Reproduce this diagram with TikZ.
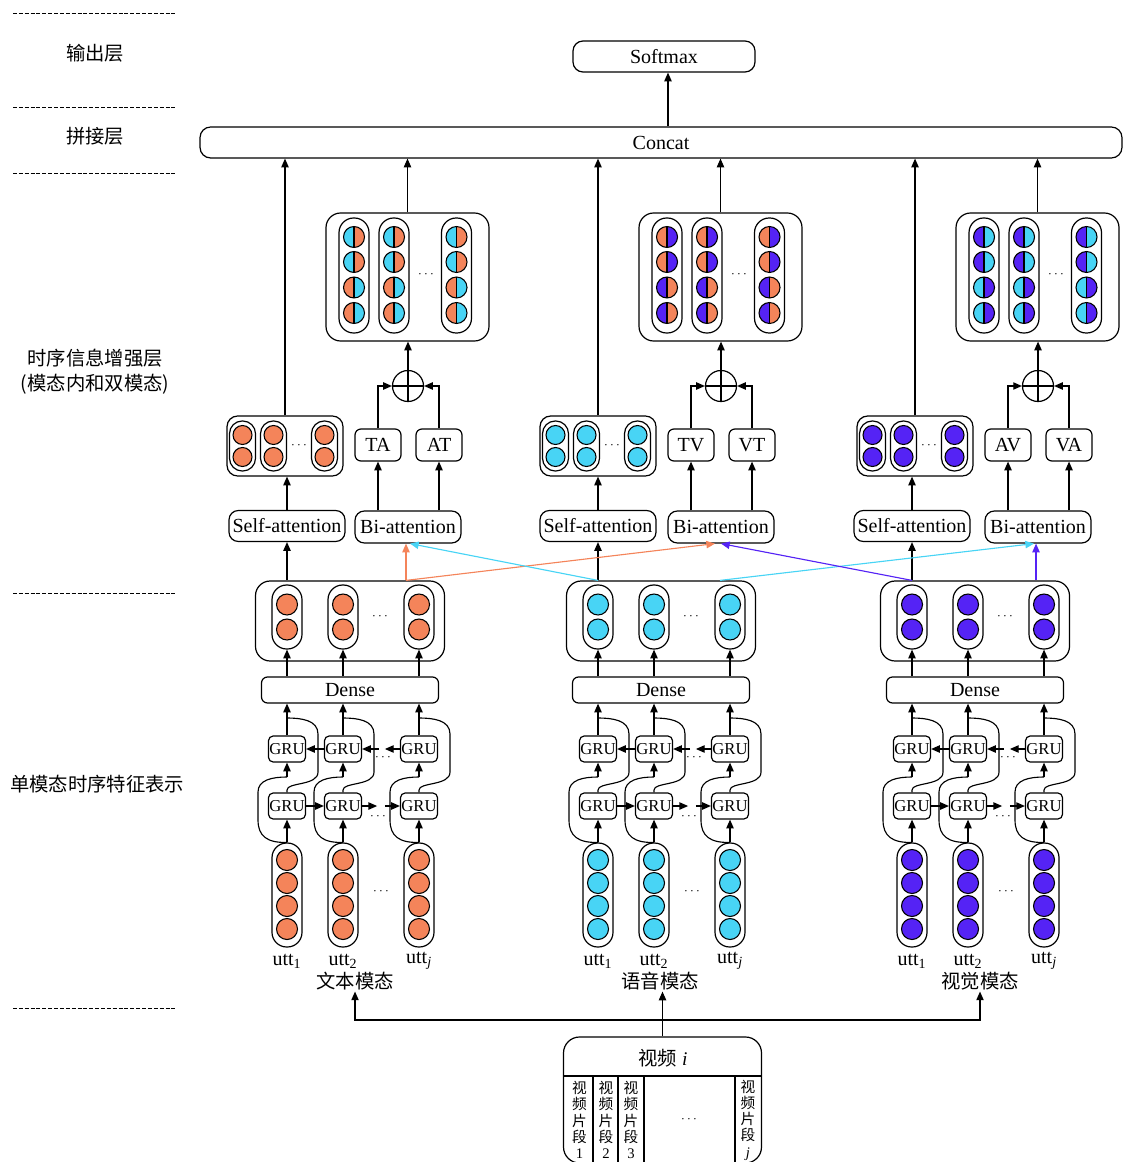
\documentclass[tikz,border=0pt]{standalone}
\usepackage{fontspec}
\setmainfont{Liberation Serif}
\newfontfamily\cjk{Noto Sans CJK SC}
\usetikzlibrary{arrows.meta,calc}
\newcommand\fs[1]{\fontsize{#1}{#1}\selectfont}
\definecolor{tcol}{RGB}{244,132,90}
\definecolor{acol}{RGB}{72,212,245}
\definecolor{vcol}{RGB}{85,35,245}
\tikzset{
  wh/.style 2 args={minimum width={#1*0.75pt}, minimum height={#2*0.75pt}},
  lw/.style={line width=0.9pt},
  conn/.style={line width=0.85pt},
  dotl/.style={line width=0.8pt},
  arr/.style={-{Triangle[length=6.5pt,width=5.5pt]}, line width=0.85pt},
  box/.style={draw, line width=0.9pt, rounded corners=7pt, inner sep=0pt, font=\fs{15}},
  gru/.style={draw, line width=0.9pt, rounded corners=3.5pt, inner sep=0pt, font=\fs{12.5}, wh={37}{26}},
  bigbox/.style={draw, line width=0.9pt, rounded corners=11pt, inner sep=0pt},
  pill/.style={draw, line width=0.9pt, rounded corners=11pt, inner sep=0pt},
  dotsn/.style={inner sep=0pt, font=\fs{10}},
  cjkl/.style={inner sep=1pt, font=\cjk\fs{14.5}},
  dashl/.style={line width=0.7pt, dash pattern=on 3pt off 1.4pt},
}
\newcommand\halfdot[4]{%
  \begin{scope}\clip (#1-12,#2-12) rectangle (#1,#2+12); \fill[#3] (#1,#2) circle[radius=10.5];\end{scope}%
  \begin{scope}\clip (#1,#2-12) rectangle (#1+12,#2+12); \fill[#4] (#1,#2) circle[radius=10.5];\end{scope}%
  \draw[dotl] (#1,#2-10.5) -- (#1,#2+10.5);%
  \draw[dotl] (#1,#2) circle[radius=10.5];}
% #1 prefix, #2 lower shift, #3 upper shift, #4 colour, #5 #6 labels, #7 #8 half colours
\newcommand\branch[8]{%
\begin{scope}[shift={(#2,0)}]
  \node[bigbox, wh={189}{80}] (#1do) at (350,621) {};
  \node[box, rounded corners=4.5pt, wh={177}{26}] (#1dn) at (350,690) {Dense};
  \node[box, wh={116}{31}] (#1sa) at (287,526) {Self-attention};
  \foreach \i/\x/\lab in {1/287/1,2/343/2,3/419/\textit{j}}{
    \node[pill, wh={30}{104}] (#1u\i) at (\x,895) {};
    \foreach \y in {860,883,906,929} \filldraw[dotl, fill=#4] (\x,\y) circle[radius=10.5];
    \node[font=\fs{15}, inner sep=1pt] (#1ul\i) at (\x,961) {utt\textsubscript{\lab}};
    \node[gru] (#1gl\i) at (\x,806) {GRU};
    \node[gru] (#1gu\i) at (\x,749) {GRU};
    \node[pill, wh={30}{64}] (#1d\i) at (\x,617) {};
    \foreach \y in {604.5,629.5} \filldraw[dotl, fill=#4] (\x,\y) circle[radius=10.5];
    \draw[arr] (#1u\i.north) -- (#1gl\i.south);
    \draw[conn] (#1u\i.north) .. controls (\x-20,843) and (\x-29,836) .. (\x-29,820) -- (\x-29,792) .. controls (\x-29,780) and (\x-15,777) .. (\x,777);
    \draw[arr] (\x,777) -- (#1gu\i.south);
    \draw[conn] (#1gl\i.north) -- (\x,790) .. controls (\x,782) and (\x+31,786) .. (\x+31,772) -- (\x+31,734) .. controls (\x+31,720) and (\x+14,718) .. (\x,718);
    \draw[arr] (#1gu\i.north) -- (#1gu\i.north |- #1dn.south);
    \draw[arr] (#1dn.north -| #1d\i.south) -- (#1d\i.south);
  }
  \node[dotsn] at (380,617) {$\cdots$};
  \node[dotsn] at (381,892) {$\cdots$};
  \node[dotsn] at (383,758) {$\cdots$};
  \node[dotsn] at (378,817) {$\cdots$};
  \draw[arr] (#1gl1.east) -- (#1gl2.west);
  \draw[arr] (#1gl2.east) -- ++(15,0);
  \draw[arr] ($(#1gl3.west)+(-15,0)$) -- (#1gl3.west);
  \draw[arr] (#1gu2.west) -- (#1gu1.east);
  \draw[arr] ($(#1gu2.east)+(17,0)$) -- (#1gu2.east);
  \draw[arr] (#1gu3.west) -- ++(-15,0);
  \draw[arr] (#1do.north -| #1sa.south) -- (#1sa.south);
\end{scope}
\begin{scope}[shift={(#3,0)}]
  \node[box, rounded corners=8pt, wh={116}{60}] (#1sb) at (285,446) {};
  \foreach \x in {242.5,273.5,324.5}{
    \node[pill, rounded corners=9.5pt, wh={26}{50}] at (\x,446) {};
    \foreach \y in {435,457} \filldraw[dotl, fill=#4] (\x,\y) circle[radius=9.5];
  }
  \node[dotsn] at (299,446) {$\cdots$};
  \node[box, wh={106}{32}] (#1bi) at (408,527) {Bi-attention};
  \node[box, rounded corners=4.5pt, wh={46}{32}] (#1l) at (378,445) {#5};
  \node[box, rounded corners=4.5pt, wh={46}{32}] (#1r) at (439,445) {#6};
  \node[circle, draw, line width=0.9pt, minimum size={31*0.75pt}, inner sep=0pt] (#1pl) at (408,386) {};
  \draw[lw] (#1pl.north) -- (#1pl.south) (#1pl.west) -- (#1pl.east);
  \node[bigbox, wh={163}{128}] (#1bb) at (407.5,277) {};
  \foreach \x in {354,394,456.5}{
    \node[pill, wh={30}{115}] at (\x,275.5) {};
    \halfdot{\x}{237}{#7}{#8}
    \halfdot{\x}{262}{#7}{#8}
    \halfdot{\x}{287.5}{#8}{#7}
    \halfdot{\x}{313}{#8}{#7}
  }
  \node[dotsn] at (426,275) {$\cdots$};
  \draw[arr] (#1bi.north -| #1l.south) -- (#1l.south);
  \draw[arr] (#1bi.north -| #1r.south) -- (#1r.south);
  \draw[arr] (#1l.north) |- (#1pl.west);
  \draw[arr] (#1r.north) |- (#1pl.east);
  \draw[arr] (#1pl.north) -- (#1pl.north |- #1bb.south);
  \draw[arr] (#1bb.north) -- (#1bb.north |- concat.south);
  \draw[arr] (#1sb.north) -- (#1sb.north |- concat.south);
\end{scope}
\draw[arr] (#1sa.north) -- (#1sa.north |- #1sb.south);
}
\begin{document}
\begin{tikzpicture}[x=0.75pt,y=-0.75pt]
\useasboundingbox (0,0) rectangle (1124,1162);
% left column
\foreach \yy in {13,107,173,593,1008} \draw[dashl] (13,\yy) -- (177,\yy);
\node[cjkl] (l1) at (95,53) {输出层};
\node[cjkl] (l2) at (95,136) {拼接层};
\node[cjkl, align=center, font=\cjk\fontsize{14.5}{18.75}\selectfont] (l3) at (95,372) {时序信息增强层\\(模态内和双模态)};
\node[cjkl] (l4) at (97,784) {单模态时序特征表示};
% top
\node[box, rounded corners=7.5pt, wh={182}{31}] (sm) at (664,56.5) {Softmax};
\node[box, rounded corners=8pt, wh={922}{31}] (concat) at (661,142.5) {Concat};
\draw[arr] (concat.north -| 668,0) -- (sm.south -| 668,0);
% branches
\branch{A}{0}{0}{tcol}{TA}{AT}{acol}{tcol}
\branch{B}{311}{313}{acol}{TV}{VT}{tcol}{vcol}
\branch{C}{625}{630}{vcol}{AV}{VA}{vcol}{acol}
% cross-modal connections
\draw[arr, tcol] (Ado.north -| 406,0) -- (Abi.south -| 406,0);
\draw[arr, tcol] (Ado.north -| 406,0) -- (Bbi.south -| 715,0);
\draw[arr, acol] (Bdo.north -| 598,0) -- (Abi.south -| 410,0);
\draw[arr, acol] (Bdo.north -| 720,0) -- (Cbi.south -| 1034,0);
\draw[arr, vcol] (Cdo.north -| 912,0) -- (Bbi.south -| 721,0);
\draw[arr, vcol] (Cdo.north -| 1036,0) -- (Cbi.south -| 1036,0);
% modality labels
\node[cjkl] (Tl) at (355,981) {文本模态};
\node[cjkl] (Al) at (660,981) {语音模态};
\node[cjkl] (Vl) at (980,981) {视觉模态};
% video box
\node[draw, line width=0.9pt, rounded corners=12pt, inner sep=0pt, wh={198}{126}] (vid) at (662.5,1100) {};
\node[inner sep=1pt, font=\fs{14.5}] (vt) at (663,1058) {{\cjk 视频} \textit{i}};
\draw[lw] (vid.west |- 0,1076) -- (vid.east |- 0,1076);
\foreach \xx in {593,618,644,735} \draw[lw] (\xx,1076) -- (\xx,1163);
\foreach \xx/\nn in {579.5/1,606/2,631/3,748/\textit{j}}
  \node[align=center, inner sep=0pt, font=\cjk\fontsize{11}{12.2}\selectfont] at (\xx,1120) {视\\频\\片\\段\\{\rmfamily\nn}};
\node[dotsn] at (689,1120) {$\cdots$};
\draw[arr] (vid.north) -- (vid.north |- Al.south);
\draw[arr] (vid.north |- 0,1020) -| (Tl.south);
\draw[arr] (vid.north |- 0,1020) -| (Vl.south);
\end{tikzpicture}
\end{document}
